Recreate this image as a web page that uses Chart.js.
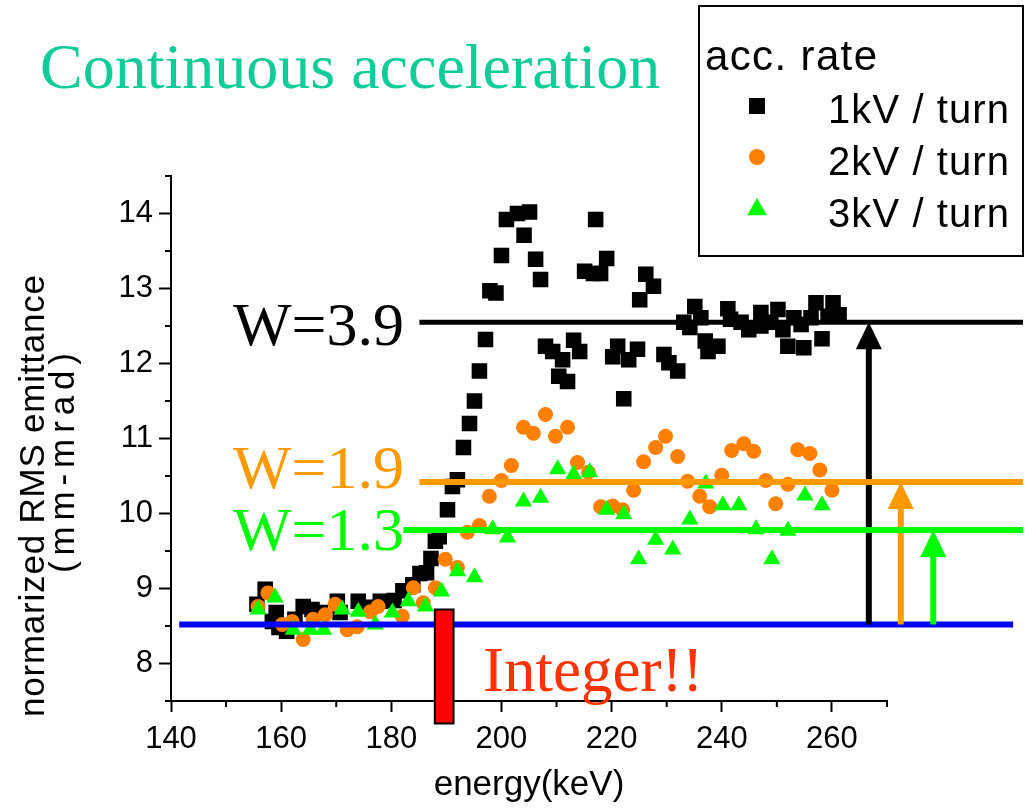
<!DOCTYPE html>
<html>
<head>
<meta charset="utf-8">
<title>Continuous acceleration</title>
<script src="https://cdn.jsdelivr.net/npm/chart.js"></script>
<style>
  html, body { margin: 0; padding: 0; background: #fff; }
  #chart { display: block; }
</style>
</head>
<body>
<canvas id="chart" width="1026" height="811"></canvas>
<script>
// values: energy (keV) vs normalized RMS emittance (mm-mrad)
const energy1 = [155.6,157.1,158.4,159.1,159.6,161.0,162.5,164.0,165.6,167.1,170.2,170.7,174.0,175.6,178.0,180.5,182.1,183.9,185.2,186.4,187.2,188.0,188.7,190.2,191.1,192.0,193.1,194.2,195.1,196.0,197.1,197.9,199.0,200.0,200.9,202.9,204.1,205.1,206.2,207.1,208.0,209.3,210.4,211.1,212.0,213.1,214.2,215.1,216.7,217.1,218.0,219.1,220.2,221.1,222.2,223.1,224.7,225.1,226.2,227.6,229.5,230.4,232.0,233.1,234.2,235.1,236.2,237.0,237.5,239.3,241.1,241.6,243.5,244.9,247.1,247.1,248.9,250.2,251.1,252.0,253.1,254.4,254.9,256.2,257.1,258.2,259.3,260.2,261.3];
const emit1 = [8.79,8.99,8.56,8.68,8.48,8.43,8.59,8.76,8.72,8.68,8.83,8.68,8.83,8.75,8.83,8.84,8.97,9.05,9.20,9.21,9.40,9.63,9.69,10.05,10.36,10.45,10.88,11.20,11.50,11.90,12.32,12.97,12.94,13.44,13.92,14.00,13.71,14.02,13.39,13.12,12.23,12.16,11.83,12.05,11.76,12.31,12.16,13.23,13.20,13.92,13.20,13.40,12.09,12.23,11.53,12.05,12.19,12.85,13.19,13.03,12.12,12.01,11.90,12.55,12.48,12.76,12.61,12.30,12.16,12.23,12.73,12.59,12.55,12.45,12.68,12.50,12.55,12.72,12.45,12.23,12.61,12.52,12.21,12.61,12.81,12.33,12.63,12.81,12.65];

const energy2 = [155.8,157.6,160.2,162.0,164.0,165.8,168.0,169.8,172.0,173.8,176.2,177.6,182.0,184.0,185.8,188.0,189.8,192.0,193.8,196.0,197.8,200.0,201.8,204.0,205.8,208.0,209.8,212.0,213.8,215.8,218.0,220.2,222.0,224.0,225.8,228.0,229.8,232.0,233.8,236.0,237.8,240.0,241.8,244.0,245.8,248.0,249.8,252.0,253.8,256.0,257.8,260.0];
const emit2 = [8.76,8.94,8.52,8.56,8.32,8.59,8.65,8.79,8.45,8.49,8.69,8.76,8.63,9.01,8.81,9.01,9.39,9.28,9.75,9.84,10.23,10.44,10.64,11.15,11.07,11.32,11.03,11.15,10.68,10.55,10.09,10.10,10.05,10.31,10.69,10.88,11.03,10.76,10.43,10.23,10.09,10.51,10.84,10.93,10.83,10.44,10.13,10.39,10.85,10.80,10.58,10.31];

const energy3 = [155.8,158.9,162.2,165.3,167.7,171.1,174.0,177.1,180.2,183.1,186.2,189.1,192.0,195.1,198.4,201.1,204.0,207.1,210.2,213.1,216.0,219.1,222.2,224.9,228.0,231.1,234.2,237.1,240.2,243.1,246.2,249.1,252.0,255.1,258.2];
const emit3 = [8.72,8.88,8.45,8.45,8.45,8.72,8.69,8.52,8.68,8.83,8.76,8.96,9.23,9.15,9.79,9.68,10.16,10.21,10.59,10.52,10.55,10.05,9.99,9.39,9.65,9.52,9.92,10.40,10.11,10.11,9.79,9.39,9.77,10.24,10.11];

const seriesLabels = ['1kV / turn', '2kV / turn', '3kV / turn'];

// annotation values (data units)
const wLabels = ['W=3.9', 'W=1.9', 'W=1.3'];
const wLevels = [12.55, 10.42, 9.78];
const wStarts = [185.1, 185.1, 182.2];
const wEnd = 294.7;
const arrowEnergies = [266.7, 272.5, 278.4];
const integerLevel = 8.52;
const integerSpan = [141.5, 292.9];
const resonanceBox = [187.9, 191.3, 7.2, 8.72]; // x0, x1, y0, y1

const xTickMin = 140, xTickMax = 270;
const yTickMin = 7.5, yTickMax = 14.5;

const toPoints = (xs, ys) => xs.map((v, i) => ({ x: v, y: ys[i] }));

const colors = {
    black: '#000000',
    orangeDots: '#ff7f00',
    orange: '#ff9900',
    green: '#00ff00',
    blue: '#0000ff',
    red: '#ff3300',
    title: '#0fcc99'
};

const sans = '"Liberation Sans", Arial, sans-serif';
const serif = '"Liberation Serif", "Times New Roman", serif';

// spread text so it covers a given length, like the original slide
function fitText(ctx, text, x, y, width) {
    ctx.letterSpacing = '0px';
    const natural = ctx.measureText(text).width;
    const gap = Math.max(0, (width - natural) / (text.length - 1));
    ctx.letterSpacing = gap + 'px';
    ctx.fillText(text, x, y);
    ctx.letterSpacing = '0px';
}

function drawMarker(ctx, style, x, y, r, color) {
    ctx.fillStyle = color;
    ctx.beginPath();
    if (style === 'rect') {
        ctx.rect(x - r, y - r, 2 * r, 2 * r);
    } else if (style === 'circle') {
        ctx.arc(x, y, r, 0, Math.PI * 2);
    } else {
        ctx.moveTo(x, y - r * 1.1);
        ctx.lineTo(x + r * 1.1, y + r * 0.8);
        ctx.lineTo(x - r * 1.1, y + r * 0.8);
        ctx.closePath();
    }
    ctx.fill();
}

const overlays = {
    id: 'overlays',
    afterDatasetsDraw(chart) {
        const { ctx, chartArea } = chart;
        const x = chart.scales.x;
        const y = chart.scales.y;
        ctx.save();

        // minor ticks (shorter than the labelled ones)
        ctx.strokeStyle = '#000';
        ctx.lineWidth = 2;
        ctx.beginPath();
        for (let v = xTickMin + 10; v <= xTickMax; v += 20) {
            const px = x.getPixelForValue(v);
            ctx.moveTo(px, chartArea.bottom);
            ctx.lineTo(px, chartArea.bottom + 6);
        }
        for (let v = yTickMin; v <= yTickMax; v += 1) {
            const py = y.getPixelForValue(v);
            ctx.moveTo(chartArea.left - 6, py);
            ctx.lineTo(chartArea.left, py);
        }
        ctx.stroke();

        // integer resonance level
        const blueY = y.getPixelForValue(integerLevel);
        ctx.strokeStyle = colors.blue;
        ctx.lineWidth = 6;
        ctx.beginPath();
        ctx.moveTo(x.getPixelForValue(integerSpan[0]), blueY);
        ctx.lineTo(x.getPixelForValue(integerSpan[1]), blueY);
        ctx.stroke();

        // W levels and arrows
        const lineColors = [colors.black, colors.orange, colors.green];
        wLevels.forEach((lvl, i) => {
            const py = y.getPixelForValue(lvl);
            ctx.strokeStyle = lineColors[i];
            ctx.lineWidth = i === 0 ? 5 : 6;
            ctx.beginPath();
            ctx.moveTo(x.getPixelForValue(wStarts[i]), py);
            ctx.lineTo(x.getPixelForValue(wEnd), py);
            ctx.stroke();

            const ax = x.getPixelForValue(arrowEnergies[i]);
            const head = 27;
            ctx.lineWidth = 6;
            ctx.beginPath();
            ctx.moveTo(ax, blueY);
            ctx.lineTo(ax, py + head - 2);
            ctx.stroke();
            ctx.fillStyle = lineColors[i];
            ctx.beginPath();
            ctx.moveTo(ax, py);
            ctx.lineTo(ax + 13, py + head);
            ctx.lineTo(ax - 13, py + head);
            ctx.closePath();
            ctx.fill();
        });

        // resonance marker
        const rx0 = x.getPixelForValue(resonanceBox[0]);
        const rx1 = x.getPixelForValue(resonanceBox[1]);
        const ry0 = y.getPixelForValue(resonanceBox[2]);
        const ry1 = y.getPixelForValue(resonanceBox[3]);
        ctx.fillStyle = '#ff0000';
        ctx.fillRect(rx0, ry1, rx1 - rx0, ry0 - ry1);
        ctx.strokeStyle = '#000';
        ctx.lineWidth = 2;
        ctx.strokeRect(rx0, ry1, rx1 - rx0, ry0 - ry1);

        ctx.restore();
    },
    afterDraw(chart) {
        const { ctx } = chart;
        ctx.save();
        ctx.textAlign = 'left';
        ctx.textBaseline = 'alphabetic';

        // slide title
        ctx.fillStyle = colors.title;
        ctx.font = '64px ' + serif;
        ctx.fillText('Continuous acceleration', 40, 88);

        // W labels
        ctx.font = '62px ' + serif;
        const wColors = [colors.black, colors.orange, colors.green];
        const wBaselines = [345, 488, 550];
        wLabels.forEach((t, i) => {
            ctx.fillStyle = wColors[i];
            ctx.fillText(t, 233, wBaselines[i]);
        });

        ctx.fillStyle = colors.red;
        ctx.font = '63px ' + serif;
        ctx.fillText('Integer!!', 483, 691);

        // y axis title, two rotated lines
        ctx.fillStyle = '#000';
        ctx.font = '35px ' + sans;
        ctx.save();
        ctx.translate(44, 717);
        ctx.rotate(-Math.PI / 2);
        fitText(ctx, 'normarized RMS emittance', 0, 0, 442);
        ctx.restore();
        ctx.save();
        ctx.translate(74, 573);
        ctx.rotate(-Math.PI / 2);
        fitText(ctx, '(mm-mrad)', 0, 0, 220);
        ctx.restore();

        // legend box
        ctx.strokeStyle = '#000';
        ctx.lineWidth = 2;
        ctx.strokeRect(699, 6, 324, 250);
        ctx.fillStyle = '#000';
        ctx.font = '42px ' + sans;
        fitText(ctx, 'acc. rate', 705, 70, 172);
        const styles = ['rect', 'circle', 'triangle'];
        const mColors = [colors.black, colors.orangeDots, colors.green];
        const sizes = [8, 8, 9];
        const rowY = [106, 157, 208];
        const textY = [123, 175, 227];
        chart.data.datasets.forEach((ds, i) => {
            drawMarker(ctx, styles[i], 757, rowY[i], sizes[i], mColors[i]);
            ctx.fillStyle = '#000';
            ctx.font = '40px ' + sans;
            fitText(ctx, ds.label, 828, textY[i], 181);
        });

        ctx.restore();
    }
};

const ctx = document.getElementById('chart').getContext('2d');

window.myChart = new Chart(ctx, {
    type: 'scatter',
    data: {
        datasets: [
            {
                label: seriesLabels[0],
                data: toPoints(energy1, emit1),
                pointStyle: 'rect',
                pointRadius: 11,
                backgroundColor: colors.black,
                borderWidth: 0,
                order: 3
            },
            {
                label: seriesLabels[1],
                data: toPoints(energy2, emit2),
                pointStyle: 'circle',
                pointRadius: 7.5,
                backgroundColor: colors.orangeDots,
                borderWidth: 0,
                order: 2
            },
            {
                label: seriesLabels[2],
                data: toPoints(energy3, emit3),
                pointStyle: 'triangle',
                pointRadius: 10,
                backgroundColor: colors.green,
                borderWidth: 0,
                order: 1
            }
        ]
    },
    options: {
        responsive: false,
        animation: false,
        events: [],
        layout: {
            padding: { top: 176, right: 139, bottom: 0, left: 0 }
        },
        plugins: {
            legend: { display: false },
            tooltip: { enabled: false }
        },
        scales: {
            x: {
                type: 'linear',
                min: xTickMin,
                max: xTickMax,
                afterFit: (scale) => { scale.height = 110; },
                border: { display: true, color: '#000', width: 2 },
                grid: {
                    drawOnChartArea: false,
                    tickLength: 11,
                    tickWidth: 2,
                    tickColor: (c) => (c.tick && c.tick.value % 20 === 0) ? '#000' : 'rgba(0,0,0,0)'
                },
                ticks: {
                    stepSize: 10,
                    autoSkip: false,
                    maxRotation: 0,
                    padding: 9,
                    color: '#000',
                    font: { family: sans, size: 31 },
                    callback: (v) => (v % 20 === 0 ? String(v) : '')
                },
                title: {
                    display: true,
                    text: 'energy(keV)',
                    color: '#000',
                    font: { family: sans, size: 35 },
                    padding: { top: 0, bottom: 5 }
                }
            },
            y: {
                type: 'linear',
                min: yTickMin,
                max: yTickMax,
                afterFit: (scale) => { scale.width = 171; },
                border: { display: true, color: '#000', width: 2 },
                grid: {
                    drawOnChartArea: false,
                    tickLength: 12,
                    tickWidth: 2,
                    tickColor: (c) => (c.tick && Number.isInteger(c.tick.value)) ? '#000' : 'rgba(0,0,0,0)'
                },
                ticks: {
                    stepSize: 0.5,
                    autoSkip: false,
                    padding: 6,
                    color: '#000',
                    font: { family: sans, size: 31 },
                    callback: (v) => (Number.isInteger(v) ? String(v) : '')
                }
            }
        }
    },
    plugins: [overlays]
});
</script>
</body>
</html>
